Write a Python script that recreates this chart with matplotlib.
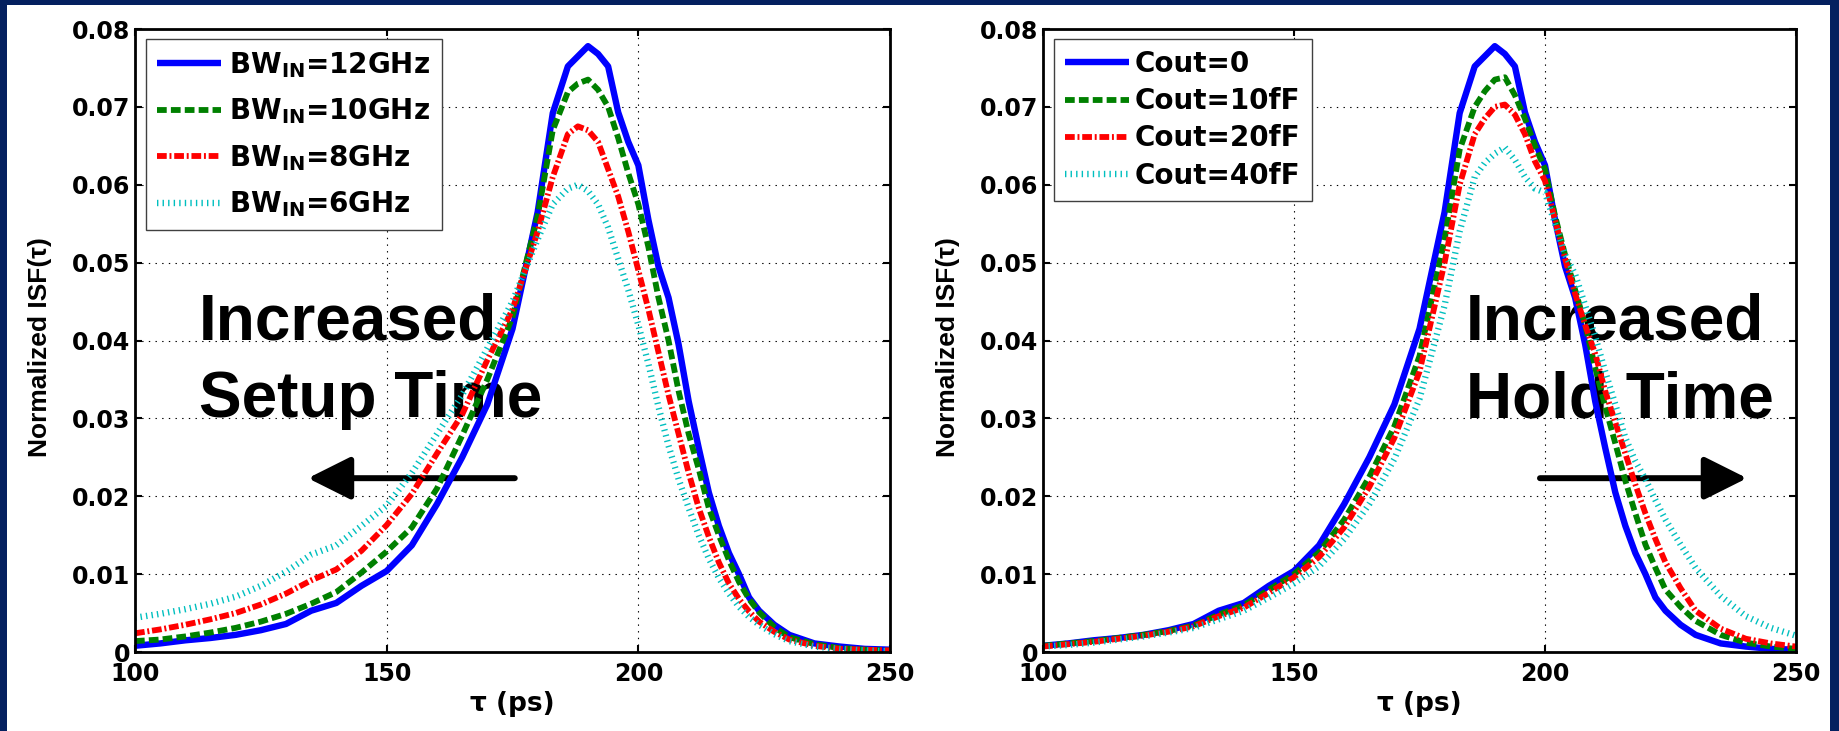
import numpy as np
import matplotlib
matplotlib.use('Agg')
import matplotlib.pyplot as plt
from matplotlib.patches import Rectangle

plt.rcParams['lines.scale_dashes'] = False
plt.rcParams['mathtext.fontset'] = 'dejavusans'
plt.rcParams['font.family'] = 'DejaVu Sans'

# time axis shared by every curve (ps)
tau_ps = [100, 105, 110, 115, 120, 125, 130, 135, 140, 145, 150, 155, 160, 165, 170,
          175, 180, 183, 186, 188, 190, 192, 194, 196, 198, 200, 202, 204, 206, 208,
          210, 212, 214, 216, 218, 220, 222, 224, 227, 230, 235, 240, 245, 250]

# baseline ISF (BW_IN=12GHz, Cout=0) - same curve in both panels
isf_base = [.0008, .0011, .0015, .0018, .0022, .0028, .0036, .0053, .0063, .0085, .0104, .0137, .0190, .0250, .0318,
            .0415, .0565, .0692, .0752, .0765, .0778, .0768, .0752, .0693, .0655, .0625, .0555, .0495, .0455, .0395,
            .0322, .0262, .0205, .0162, .0127, .0100, .0070, .0053, .0035, .0022, .0011, .0007, .0004, .0003]

# left panel: input bandwidth
isf_bw10 = [.0014, .0016, .0020, .0025, .0031, .0039, .0049, .0062, .0077, .0102, .0129, .0160, .0210, .0278, .0350,
            .0430, .0560, .0670, .0719, .0730, .0735, .0722, .0700, .0660, .0615, .0575, .0520, .0455, .0400, .0335,
            .0280, .0235, .0185, .0150, .0118, .0090, .0068, .0051, .0032, .0019, .0010, .0005, .0003, .0002]
isf_bw8 = [.0024, .0029, .0035, .0042, .0050, .0061, .0075, .0092, .0106, .0130, .0163, .0203, .0255, .0305, .0375,
           .0440, .0540, .0610, .0665, .0675, .0670, .0655, .0620, .0585, .0540, .0490, .0440, .0385, .0330, .0280,
           .0230, .0185, .0148, .0115, .0088, .0068, .0052, .0039, .0026, .0016, .0008, .0004, .0003, .0002]
isf_bw6 = [.0044, .0049, .0055, .0062, .0071, .0085, .0103, .0125, .0137, .0162, .0188, .0230, .0280, .0330, .0390,
           .0450, .0530, .0575, .0595, .0600, .0592, .0575, .0545, .0505, .0465, .0420, .0370, .0315, .0265, .0222,
           .0185, .0150, .0120, .0095, .0075, .0058, .0045, .0035, .0023, .0014, .0007, .0004, .0002, .0001]

# right panel: output load
isf_c10 = [.0008, .0011, .0014, .0018, .0022, .0027, .0034, .0048, .0060, .0080, .0100, .0128, .0170, .0225, .0290,
           .0380, .0530, .0645, .0700, .0720, .0735, .0738, .0715, .0685, .0650, .0620, .0560, .0510, .0465, .0420,
           .0365, .0315, .0268, .0220, .0178, .0138, .0108, .0080, .0058, .0040, .0022, .0012, .0007, .0004]
isf_c20 = [.0007, .0010, .0013, .0017, .0021, .0026, .0033, .0046, .0057, .0076, .0096, .0122, .0160, .0212, .0275,
           .0360, .0500, .0600, .0665, .0685, .0700, .0703, .0690, .0665, .0630, .0605, .0555, .0505, .0460, .0420,
           .0383, .0335, .0295, .0255, .0215, .0178, .0145, .0115, .0082, .0053, .0030, .0017, .0011, .0007]
isf_c40 = [.0007, .0009, .0012, .0016, .0020, .0025, .0031, .0042, .0053, .0070, .0088, .0110, .0145, .0190, .0248,
           .0325, .0445, .0540, .0610, .0628, .0640, .0648, .0632, .0610, .0595, .0590, .0550, .0510, .0485, .0445,
           .0405, .0360, .0318, .0275, .0245, .0222, .0195, .0170, .0138, .0108, .0072, .0046, .0031, .0021]

bw_labels = ['BW$_{\\mathbf{IN}}$=12GHz', 'BW$_{\\mathbf{IN}}$=10GHz',
             'BW$_{\\mathbf{IN}}$=8GHz', 'BW$_{\\mathbf{IN}}$=6GHz']
cout_labels = ['Cout=0', 'Cout=10fF', 'Cout=20fF', 'Cout=40fF']

x_ticks = [100, 150, 200, 250]
y_ticks = [0, 0.01, 0.02, 0.03, 0.04, 0.05, 0.06, 0.07, 0.08]
y_tick_labels = ['0', '0.01', '0.02', '0.03', '0.04', '0.05', '0.06', '0.07', '0.08']

styles = [dict(color='#0000ff', ls='-', lw=4.6),
          dict(color='#008000', dashes=(7, 3), lw=4.2),
          dict(color='#ff0000', dashes=(7, 2, 1.4, 2), lw=4.2),
          dict(color='#00bfbf', dashes=(1, 3), lw=4.6)]

NAVY = '#04205f'

fig = plt.figure(figsize=(18.39, 7.31), dpi=100)
fig.patch.set_facecolor('white')
for r in [(0, 0, 7 / 1839, 1), (0, 1 - 5 / 731, 1, 5 / 731), (1 - 9 / 1839, 0, 9 / 1839, 1)]:
    fig.patches.append(Rectangle(r[:2], r[2], r[3], transform=fig.transFigure,
                                 facecolor=NAVY, edgecolor='none', zorder=0))


def make_panel(ax, curves, labels, leg_pad, leg_space):
    for vals, st, lab in zip(curves, styles, labels):
        ax.plot(tau_ps, vals, label=lab, solid_capstyle='butt', dash_capstyle='butt', **st)
    ax.set_xlim(100, 250)
    ax.set_ylim(0, 0.08)
    ax.set_xticks(x_ticks)
    ax.set_xticklabels([str(t) for t in x_ticks], fontsize=17, fontweight='bold')
    ax.set_yticks(y_ticks)
    ax.set_yticklabels(y_tick_labels, fontsize=17, fontweight='bold')
    ax.tick_params(direction='in', length=5, width=1.5, top=True, right=True)
    ax.tick_params(axis='x', pad=7)
    ax.tick_params(axis='y', pad=3.5)
    ax.set_axisbelow(True)
    ax.grid(True, color='black', lw=0.8, linestyle=(0, (1, 3.8)))
    for sp in ax.spines.values():
        sp.set_linewidth(2)
    ax.set_xlabel('\u03c4 (ps)', fontsize=19, fontweight='bold', va='top')
    ax.xaxis.set_label_coords(0.5, -0.062)
    ax.set_ylabel('Normalized ISF(\u03c4)', fontsize=19, fontweight='bold',
                  family='Liberation Sans')
    ax.yaxis.set_label_coords(-0.11, 0.49)
    leg = ax.legend(loc='upper left', bbox_to_anchor=(0.0146, 0.984), borderaxespad=0,
                    prop=dict(weight='bold', size=20), handlelength=2.3,
                    handletextpad=leg_pad, labelspacing=leg_space, borderpad=0.4,
                    fancybox=False, framealpha=1, edgecolor='#404040')
    leg.get_frame().set_linewidth(1)
    leg.set_zorder(5)


def add_note(ax, x, lines, arrow_from, arrow_to):
    for txt, yb in zip(lines, [0.501, 0.377]):
        ax.text(x, yb, txt, transform=ax.transAxes, fontsize=46, fontweight='bold',
                family='Liberation Sans', va='baseline', zorder=1.5)
    ax.annotate('', xy=(arrow_to, 0.279), xytext=(arrow_from, 0.279), xycoords='axes fraction',
                arrowprops=dict(arrowstyle='-|>,head_length=0.4,head_width=0.2', lw=4.3,
                                color='black', mutation_scale=66, shrinkA=0, shrinkB=0),
                zorder=1.5)


ax1 = fig.add_axes([135 / 1839, 79 / 731, 755 / 1839, 623 / 731])
make_panel(ax1, [isf_base, isf_bw10, isf_bw8, isf_bw6], bw_labels, 0.3, 0.6)
add_note(ax1, 0.085, ['Increased', 'Setup Time'], 0.503, 0.229)

ax2 = fig.add_axes([1043 / 1839, 79 / 731, 753 / 1839, 623 / 731])
make_panel(ax2, [isf_base, isf_c10, isf_c20, isf_c40], cout_labels, 0.22, 0.33)
add_note(ax2, 0.562, ['Increased', 'Hold Time'], 0.660, 0.935)

fig.savefig('out.png', dpi=100, facecolor='white')
